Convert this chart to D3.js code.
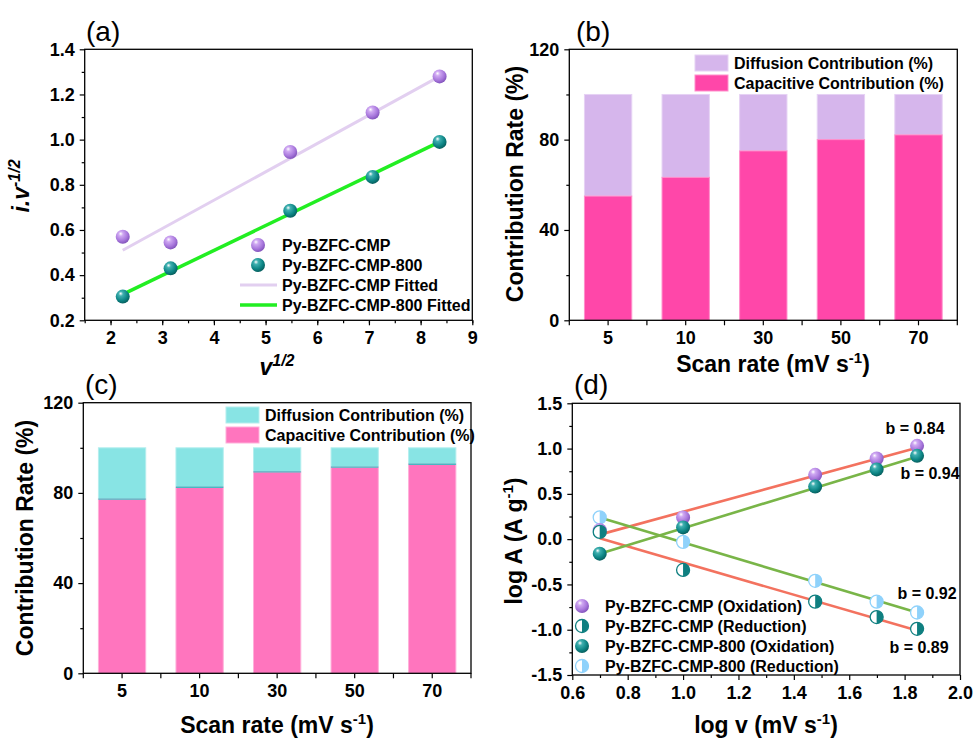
<!DOCTYPE html>
<meta charset="utf-8">
<script src="https://d3js.org/d3.v7.min.js"></script>
<style>
  body { margin: 0; background: #fff; }
  text { font-family: "Liberation Sans", Arial, sans-serif; }
</style>
<div id="my_dataviz"></div>
<script>

// ---- data ----
var scanRates = ["5", "10", "30", "50", "70"];

// (a) i.v^-1/2 vs v^1/2
var sqrtV = [2.236, 3.162, 5.477, 7.071, 8.367];
var aCmp = [0.57, 0.545, 0.945, 1.12, 1.28];
var a800 = [0.305, 0.43, 0.685, 0.835, 0.99];
var aFitX = [2.236, 8.367];
var aCmpFit = [0.51, 1.28];
var a800Fit = [0.315, 0.99];

// (b) and (c) capacitive share, diffusion is the rest up to 100
var bCapacitive = [55, 63.3, 75, 80, 82.1];
var cCapacitive = [77.2, 82.5, 89.3, 91.4, 92.7];

// (d) log A vs log v
var logV = [0.699, 1.0, 1.477, 1.699, 1.845];
var dCmpOx = [0.10, 0.24, 0.71, 0.89, 1.03];
var dCmpRed = [0.08, -0.34, -0.69, -0.86, -0.99];
var d800Ox = [-0.16, 0.13, 0.58, 0.77, 0.92];
var d800Red = [0.24, -0.03, -0.46, -0.69, -0.81];
var dFitX = [0.699, 1.845];
var dCmpOxFit = [0.05, 1.01];
var dCmpRedFit = [0.01, -1.01];
var d800OxFit = [-0.16, 0.91];
var d800RedFit = [0.24, -0.81];
var bLabels = ["b = 0.84", "b = 0.94", "b = 0.92", "b = 0.89"];

var svg = d3.select("#my_dataviz")
  .append("svg")
    .attr("width", 974)
    .attr("height", 740);

// sphere gradients
var defs = svg.append("defs");
function sphere(id, light, base, dark) {
  var g = defs.append("radialGradient").attr("id", id)
    .attr("cx", "40%").attr("cy", "35%").attr("r", "65%")
    .attr("fx", "35%").attr("fy", "28%");
  g.append("stop").attr("offset", "0%").attr("stop-color", "#ffffff");
  g.append("stop").attr("offset", "25%").attr("stop-color", light);
  g.append("stop").attr("offset", "70%").attr("stop-color", base);
  g.append("stop").attr("offset", "100%").attr("stop-color", dark);
}
sphere("gPurple", "#cfa8f2", "#a877dc", "#8455bd");
sphere("gTeal", "#3fb0b0", "#0d8585", "#07605f");

var tickFont = "18px", titleFont = "23px", legFont = "16px";

function drawBall(g, x, y, fill) {
  g.append("circle").attr("cx", x).attr("cy", y).attr("r", 7)
    .attr("fill", "url(#" + fill + ")");
}
function drawHalf(g, x, y, color) {
  g.append("circle").attr("cx", x).attr("cy", y).attr("r", 6.5)
    .attr("fill", "#fff").attr("stroke", color).attr("stroke-width", 1.3);
  g.append("path")
    .attr("d", "M" + x + "," + (y - 6.5) + " A6.5,6.5 0 0 1 " + x + "," + (y + 6.5) + " Z")
    .attr("fill", color);
}

// frame + axes helper (ticks point outward like Origin)
function frame(x0, x1, y0, y1) {
  svg.append("rect").attr("x", x0).attr("y", y0)
    .attr("width", x1 - x0).attr("height", y1 - y0)
    .attr("fill", "none").attr("stroke", "#000").attr("stroke-width", 1.3);
}
function styleAxis(g) {
  g.select(".domain").remove();
  g.selectAll(".tick line").attr("stroke", "#000").attr("stroke-width", 1.2);
  g.selectAll(".tick text").attr("fill", "#000")
    .style("font-size", tickFont).style("font-weight", "bold");
}
var fmt1 = function (d) { return d3.format(".1f")(d).replace("\u2212", "-"); };

function panelLabel(txt, x, y) {
  svg.append("text").attr("x", x).attr("y", y).text(txt)
    .style("font-size", "28px");
}

// ================= (a) =================
var xA = d3.scaleLinear().domain([1.5, 9]).range([84.7, 472.3]);
var yA = d3.scaleLinear().domain([0.2, 1.4]).range([320.3, 49.3]);

svg.append("g").attr("transform", "translate(0,320.3)")
  .call(d3.axisBottom(xA).tickValues(d3.range(2, 9.01, 1)).tickSize(5).tickPadding(6).tickFormat(d3.format("d")))
  .call(styleAxis);
svg.append("g").attr("transform", "translate(0,320.3)")
  .call(d3.axisBottom(xA).tickValues(d3.range(1.5, 9.01, 0.5)).tickSize(3).tickFormat(""))
  .call(styleAxis);
svg.append("g").attr("transform", "translate(84.7,0)")
  .call(d3.axisLeft(yA).tickValues(d3.range(0.2, 1.41, 0.2)).tickSize(5).tickPadding(5).tickFormat(fmt1))
  .call(styleAxis);
svg.append("g").attr("transform", "translate(84.7,0)")
  .call(d3.axisLeft(yA).tickValues(d3.range(0.3, 1.4, 0.2)).tickSize(3).tickFormat(""))
  .call(styleAxis);
frame(84.7, 472.3, 49.3, 320.3);

var lineA = d3.line().x(function (d) { return xA(d[0]); }).y(function (d) { return yA(d[1]); });
svg.append("path").datum(d3.zip(aFitX, aCmpFit)).attr("d", lineA)
  .attr("stroke", "#e2cff0").attr("stroke-width", 3).attr("fill", "none");
svg.append("path").datum(d3.zip(aFitX, a800Fit)).attr("d", lineA)
  .attr("stroke", "#22ee22").attr("stroke-width", 3.5).attr("fill", "none");

var ptsA = svg.append("g");
sqrtV.forEach(function (v, i) {
  drawBall(ptsA, xA(v), yA(aCmp[i]), "gPurple");
  drawBall(ptsA, xA(v), yA(a800[i]), "gTeal");
});

// legend (a)
var legA = svg.append("g");
drawBall(legA, 258, 245, "gPurple");
drawBall(legA, 258, 265, "gTeal");
legA.append("line").attr("x1", 240).attr("x2", 277).attr("y1", 285).attr("y2", 285)
  .attr("stroke", "#e2cff0").attr("stroke-width", 3);
legA.append("line").attr("x1", 240).attr("x2", 277).attr("y1", 305).attr("y2", 305)
  .attr("stroke", "#22ee22").attr("stroke-width", 3.5);
["Py-BZFC-CMP", "Py-BZFC-CMP-800", "Py-BZFC-CMP Fitted", "Py-BZFC-CMP-800 Fitted"].forEach(function (t, i) {
  legA.append("text").attr("x", 282).attr("y", 245 + i * 20).attr("dy", "0.35em").text(t)
    .style("font-size", legFont).style("font-weight", "bold");
});

// axis titles (a)
var ya = svg.append("text").attr("transform", "translate(29,186) rotate(-90)")
  .attr("text-anchor", "middle").style("font-size", titleFont).style("font-weight", "bold")
  .style("font-style", "italic");
ya.append("tspan").text("i.v");
ya.append("tspan").attr("dy", -9).style("font-size", "16px").text("-1/2");
var xa = svg.append("text").attr("x", 277).attr("y", 375)
  .attr("text-anchor", "middle").style("font-size", titleFont).style("font-weight", "bold")
  .style("font-style", "italic");
xa.append("tspan").text("v");
xa.append("tspan").attr("dy", -9).style("font-size", "16px").text("1/2");
panelLabel("(a)", 86, 41);

// ================= bar panels (b), (c) =================
function barPanel(x0, x1, y0, y1, capacitive, capColor, capEdge, difColor, difEdge, joinColor, legX, legY) {
  var x = d3.scaleBand().domain(scanRates).range([x0, x1]).paddingInner(0.39).paddingOuter(0.195);
  var y = d3.scaleLinear().domain([0, 120]).range([y1, y0]);

  svg.append("g").attr("transform", "translate(0," + y1 + ")")
    .call(d3.axisBottom(x).tickSize(5).tickPadding(6))
    .call(styleAxis);
  // minor ticks between categories
  var mids = scanRates.slice(1).map(function (c) { return x(c) - x.step() * x.paddingInner() / 2; });
  mids = [x0].concat(mids).concat([x1]);
  svg.append("g").selectAll("line").data(mids).enter().append("line")
    .attr("x1", function (d) { return d; }).attr("x2", function (d) { return d; })
    .attr("y1", y1).attr("y2", y1 + 5).attr("stroke", "#000").attr("stroke-width", 1.2);

  svg.append("g").attr("transform", "translate(" + x0 + ",0)")
    .call(d3.axisLeft(y).tickValues([0, 40, 80, 120]).tickSize(5).tickPadding(5))
    .call(styleAxis);
  svg.append("g").attr("transform", "translate(" + x0 + ",0)")
    .call(d3.axisLeft(y).tickValues([20, 60, 100]).tickSize(3).tickFormat(""))
    .call(styleAxis);

  var rows = scanRates.map(function (c, i) { return { cat: c, cap: capacitive[i] }; });
  var g = svg.append("g");
  g.selectAll(".dif").data(rows).enter().append("rect")
    .attr("x", function (d) { return x(d.cat); })
    .attr("width", x.bandwidth())
    .attr("y", y(100))
    .attr("height", function (d) { return y(d.cap) - y(100); })
    .attr("fill", difColor).attr("stroke", difEdge).attr("stroke-width", 1);
  g.selectAll(".cap").data(rows).enter().append("rect")
    .attr("x", function (d) { return x(d.cat); })
    .attr("width", x.bandwidth())
    .attr("y", function (d) { return y(d.cap); })
    .attr("height", function (d) { return y1 - y(d.cap); })
    .attr("fill", capColor).attr("stroke", capEdge).attr("stroke-width", 1);
  if (joinColor) {
    g.selectAll(".join").data(rows).enter().append("line")
      .attr("x1", function (d) { return x(d.cat); })
      .attr("x2", function (d) { return x(d.cat) + x.bandwidth(); })
      .attr("y1", function (d) { return y(d.cap); })
      .attr("y2", function (d) { return y(d.cap); })
      .attr("stroke", joinColor).attr("stroke-width", 1.3);
  }
  frame(x0, x1, y0, y1);

  // legend
  var leg = svg.append("g");
  leg.append("rect").attr("x", legX).attr("y", legY).attr("width", 33).attr("height", 16)
    .attr("fill", difColor).attr("stroke", difEdge);
  leg.append("rect").attr("x", legX).attr("y", legY + 20).attr("width", 33).attr("height", 16)
    .attr("fill", capColor).attr("stroke", capEdge);
  leg.append("text").attr("x", legX + 39).attr("y", legY + 8).attr("dy", "0.35em")
    .text("Diffusion Contribution (%)").style("font-size", legFont).style("font-weight", "bold");
  leg.append("text").attr("x", legX + 39).attr("y", legY + 28).attr("dy", "0.35em")
    .text("Capacitive Contribution (%)").style("font-size", legFont).style("font-weight", "bold");
}

function scanTitle(cx, y) {
  var t = svg.append("text").attr("x", cx).attr("y", y).attr("text-anchor", "middle")
    .style("font-size", titleFont).style("font-weight", "bold");
  t.append("tspan").text("Scan rate (mV s");
  t.append("tspan").attr("dy", -9).style("font-size", "15px").text("-1");
  t.append("tspan").attr("dy", 9).text(")");
}
function rateTitle(cx, cy) {
  svg.append("text").attr("transform", "translate(" + cx + "," + cy + ") rotate(-90)")
    .attr("text-anchor", "middle").style("font-size", titleFont).style("font-weight", "bold")
    .text("Contribution Rate (%)");
}

barPanel(569.3, 957.3, 49.3, 320.3, bCapacitive, "#ff47a9", "#ff8fcb", "#d6b6ec", "#e6d2f4", null, 695, 55);
scanTitle(773, 372);
rateTitle(523, 184);
panelLabel("(b)", 576, 41);

barPanel(83.3, 471, 402.7, 673.3, cCapacitive, "#ff75be", "#ffb0da", "#88e4e4", "#b4eeee", "#49b7c2", 226, 407);
scanTitle(277, 733);
rateTitle(33, 538);
panelLabel("(c)", 85, 394);

// ================= (d) =================
var xD = d3.scaleLinear().domain([0.6, 2.0]).range([572.3, 960]);
var yD = d3.scaleLinear().domain([-1.5, 1.5]).range([675, 403.3]);

svg.append("g").attr("transform", "translate(0,675)")
  .call(d3.axisBottom(xD).tickValues(d3.range(0.6, 2.01, 0.2)).tickSize(5).tickPadding(6).tickFormat(fmt1))
  .call(styleAxis);
svg.append("g").attr("transform", "translate(0,675)")
  .call(d3.axisBottom(xD).tickValues(d3.range(0.7, 2.0, 0.2)).tickSize(3).tickFormat(""))
  .call(styleAxis);
svg.append("g").attr("transform", "translate(572.3,0)")
  .call(d3.axisLeft(yD).tickValues(d3.range(-1.5, 1.51, 0.5)).tickSize(5).tickPadding(5).tickFormat(fmt1))
  .call(styleAxis);
svg.append("g").attr("transform", "translate(572.3,0)")
  .call(d3.axisLeft(yD).tickValues(d3.range(-1.25, 1.5, 0.5)).tickSize(3).tickFormat(""))
  .call(styleAxis);
frame(572.3, 960, 403.3, 675);

var lineD = d3.line().x(function (d) { return xD(d[0]); }).y(function (d) { return yD(d[1]); });
[[dCmpOxFit, "#f3725f"], [dCmpRedFit, "#f3725f"], [d800OxFit, "#79b548"], [d800RedFit, "#79b548"]].forEach(function (f) {
  svg.append("path").datum(d3.zip(dFitX, f[0])).attr("d", lineD)
    .attr("stroke", f[1]).attr("stroke-width", 2.6).attr("fill", "none");
});

var ptsD = svg.append("g");
logV.forEach(function (v, i) {
  drawHalf(ptsD, xD(v), yD(d800Red[i]), "#8fd2fb");
  drawBall(ptsD, xD(v), yD(dCmpOx[i]), "gPurple");
  drawHalf(ptsD, xD(v), yD(dCmpRed[i]), "#0f7f80");
  drawBall(ptsD, xD(v), yD(d800Ox[i]), "gTeal");
});

// b-value notes
var notes = [[915, 428], [930, 473], [927, 593], [919, 647]];
notes.forEach(function (p, i) {
  svg.append("text").attr("x", p[0]).attr("y", p[1]).attr("dy", "0.35em").attr("text-anchor", "middle")
    .text(bLabels[i]).style("font-size", "16px").style("font-weight", "bold");
});

// legend (d)
var legD = svg.append("g");
drawBall(legD, 582, 606, "gPurple");
drawHalf(legD, 582, 626, "#0f7f80");
drawBall(legD, 582, 646, "gTeal");
drawHalf(legD, 582, 666, "#8fd2fb");
["Py-BZFC-CMP (Oxidation)", "Py-BZFC-CMP (Reduction)", "Py-BZFC-CMP-800 (Oxidation)", "Py-BZFC-CMP-800 (Reduction)"].forEach(function (t, i) {
  legD.append("text").attr("x", 605).attr("y", 606 + i * 20).attr("dy", "0.35em").text(t)
    .style("font-size", legFont).style("font-weight", "bold");
});

// axis titles (d)
var xd = svg.append("text").attr("x", 766).attr("y", 733).attr("text-anchor", "middle")
  .style("font-size", titleFont).style("font-weight", "bold");
xd.append("tspan").text("log v (mV s");
xd.append("tspan").attr("dy", -9).style("font-size", "15px").text("-1");
xd.append("tspan").attr("dy", 9).text(")");
var yd = svg.append("text").attr("transform", "translate(522,541) rotate(-90)")
  .attr("text-anchor", "middle").style("font-size", titleFont).style("font-weight", "bold");
yd.append("tspan").text("log A (A g");
yd.append("tspan").attr("dy", -9).style("font-size", "15px").text("-1");
yd.append("tspan").attr("dy", 9).text(")");
panelLabel("(d)", 574, 394);

</script>
